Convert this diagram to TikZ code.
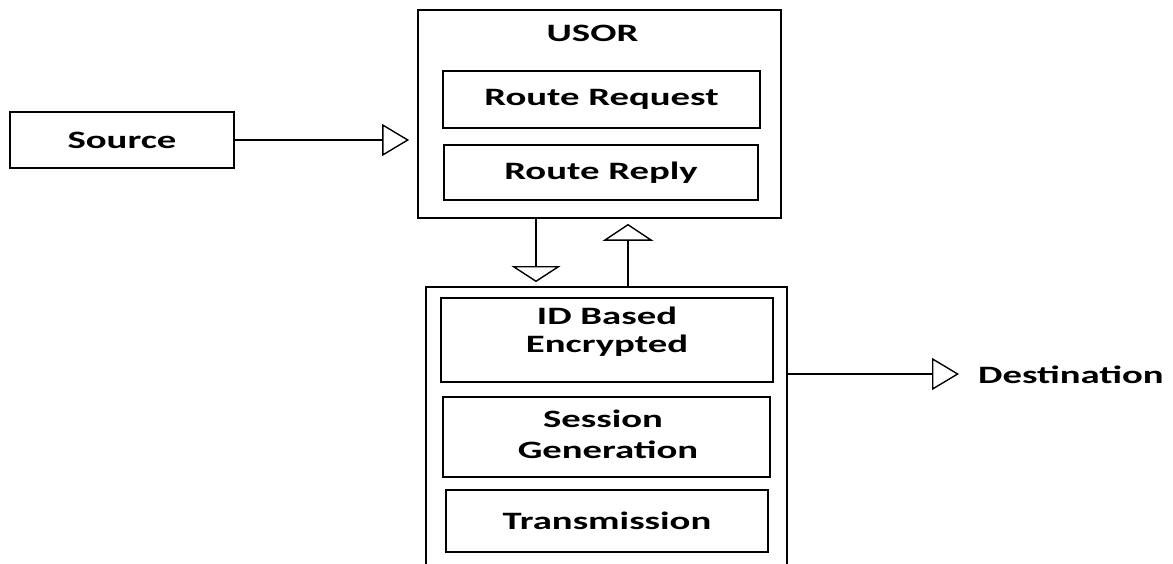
\documentclass[tikz,border=0pt]{standalone}
\usepackage{fontspec}
\setmainfont{Carlito}
\usepackage{graphicx}
\usetikzlibrary{arrows.meta}
% wide bold lettering used for all labels
\newcommand\widen[1]{\scalebox{1.55}[1]{#1}}
\begin{document}
\begin{tikzpicture}[x=1pt,y=-1pt,
  box/.style={draw, line width=1.8pt, inner sep=0pt,
    font=\fontsize{25}{28}\selectfont\bfseries, align=center},
  lbl/.style={font=\fontsize{25}{28}\selectfont\bfseries, inner sep=0pt, align=center},
  link/.style={line width=1.4pt},
  openhead/.style 2 args={-{Triangle[open, length=#1, width=#2]}},
]
\useasboundingbox (0,0) rectangle (1173,564);
\clip (0,0) rectangle (1173,564);

% source block
\node[box, minimum width=224pt, minimum height=56pt] (source) at (122,140) {\widen{Source}};

% USOR block with its two steps
\node[box, minimum width=363pt, minimum height=208pt] (usor) at (599.5,114) {};
\node[lbl] (usorlabel) at (592.5,33) {\widen{USOR}};
\node[box, minimum width=317pt, minimum height=57pt] (request) at (601.5,99.5) {\widen{Route Request}};
\node[box, minimum width=314pt, minimum height=55pt] (reply) at (601,172.5) {\widen{Route Reply}};

% lower block, running off the bottom edge
\node[box, minimum width=361pt, minimum height=313pt] (lower) at (606.5,443.5) {};
\node[box, minimum width=332pt, minimum height=84pt] (idbox) at (607,340) {};
\node[lbl] (idtext) at (607,332) {\widen{ID Based}\\\widen{Encrypted}};
\node[box, minimum width=327pt, minimum height=80pt] (session) at (606.5,437) {};
\node[lbl] (sessiontext) at (603,434) {\widen{Session}\\[3pt]\hspace*{10pt}\widen{Generation}};
\node[box, minimum width=322pt, minimum height=62pt] (trans) at (607,521) {\widen{Transmission}};

% destination label
\node[lbl, anchor=west] (dest) at (978,375) {\widen{Destination}};

% helper positions for the connectors
\coordinate (dnx) at (536,0);
\coordinate (upx) at (628,0);
\coordinate (desty) at (0,374);

% connectors
\draw[link, openhead={27pt}{32pt}] (source.east) -- ([xshift=-8pt]usor.west |- source.east);
\draw[link, openhead={16pt}{49pt}] (usor.south -| dnx) -- ([yshift=4pt]lower.north -| dnx);
\draw[link, openhead={17pt}{51pt}] (lower.north -| upx) -- ([yshift=-5pt]usor.south -| upx);
\draw[link, openhead={27pt}{32pt}] (lower.east |- desty) -- ([xshift=-19pt]dest.west |- desty);
\end{tikzpicture}
\end{document}
